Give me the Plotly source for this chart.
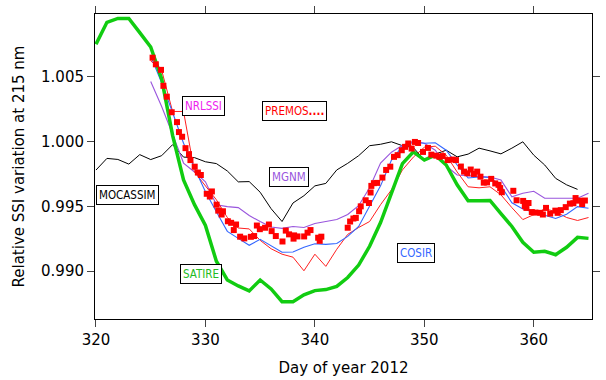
import plotly.graph_objects as go

# ---------------- data ----------------
satire_days = list(range(320, 366))
satire_vals = [1.00751, 1.00920, 1.00950, 1.00950, 1.00840, 1.00729, 1.00484, 1.00048, 0.99704, 0.99513,
               0.99352, 0.99077, 0.98932, 0.98886, 0.98848, 0.98932, 0.98863, 0.98764, 0.98764, 0.98817,
               0.98850, 0.98858, 0.98882, 0.98951, 0.99047, 0.99192, 0.99375, 0.99597, 0.99830, 0.99920,
               0.99857, 0.99895, 0.99819, 0.99666, 0.99544, 0.99544, 0.99546, 0.99444, 0.99345, 0.99223,
               0.99146, 0.99154, 0.99127, 0.99184, 0.99261, 0.99253]

mocassim_days = list(range(320, 365))
mocassim_vals = [0.99780, 0.99870, 0.99862, 0.99826, 0.99899, 0.99861, 0.99891, 0.99976, 0.99880, 0.99876,
                 0.99844, 0.99830, 0.99773, 0.99689, 0.99691, 0.99609, 0.99482, 0.99383, 0.99526, 0.99582,
                 0.99658, 0.99677, 0.99781, 0.99832, 0.99891, 0.99968, 0.99979, 0.99998, 0.99968, 0.99953,
                 0.99857, 0.99903, 0.99933, 0.99882, 0.99903, 0.99949, 0.99928, 0.99905, 0.99949, 0.99998,
                 0.99895, 0.99819, 0.99716, 0.99666, 0.99631]

mgnm_days = list(range(325, 366))
mgnm_vals = [1.00463, 1.00270, 1.00056, 0.99834, 0.99765, 0.99689, 0.99513, 0.99498, 0.99490, 0.99429,
             0.99383, 0.99341, 0.99330, 0.99345, 0.99337, 0.99368, 0.99383, 0.99398, 0.99437, 0.99505,
             0.99643, 0.99834, 0.99918, 0.99972, 1.00002, 0.99987, 0.99933, 0.99811, 0.99742, 0.99735,
             0.99731, 0.99727, 0.99704, 0.99574, 0.99601, 0.99616, 0.99563, 0.99563, 0.99563, 0.99563,
             0.99601]

cosir_days = list(range(325, 366))
cosir_vals = [1.00660, 1.00453, 1.00224, 0.99987, 0.99796, 0.99612, 0.99459, 0.99307, 0.99253, 0.99200,
              0.99246, 0.99196, 0.99146, 0.99148, 0.99184, 0.99211, 0.99207, 0.99213, 0.99268, 0.99345,
              0.99498, 0.99658, 0.99857, 0.99964, 0.99995, 0.99987, 0.99991, 0.99933, 0.99819, 0.99719,
              0.99727, 0.99723, 0.99658, 0.99528, 0.99479, 0.99452, 0.99431, 0.99406, 0.99440, 0.99498,
              0.99486]

nrlssi_days = list(range(325, 366))
nrlssi_vals = [1.00622, 1.00550, 1.00232, 1.00232, 0.99765, 0.99658, 0.99551, 0.99414, 0.99333, 0.99326,
               0.99238, 0.99173, 0.99131, 0.99108, 0.99003, 0.99131, 0.99037, 0.99169, 0.99284, 0.99337,
               0.99383, 0.99513, 0.99628, 0.99781, 0.99880, 0.99956, 0.99964, 0.99895, 0.99765, 0.99651,
               0.99643, 0.99651, 0.99589, 0.99490, 0.99398, 0.99436, 0.99482, 0.99459, 0.99414, 0.99391,
               0.99414]

premos_days = [325.17, 325.47, 325.94, 326.16, 326.47, 326.92, 327.40, 327.58, 327.87, 328.18,
               328.50, 328.63, 329.02, 329.31, 329.58, 330.12, 330.40, 330.59, 331.02, 331.17,
               331.60, 331.48, 332.05, 332.35, 332.80, 332.59, 333.17, 333.55, 334.15, 334.45,
               334.70, 334.97, 335.45, 335.80, 336.05, 336.43, 337.04, 337.34, 337.64, 338.05,
               338.10, 338.41, 339.02, 339.33, 339.60, 340.30, 340.44, 340.59, 343.00, 343.22,
               343.52, 343.74, 344.04, 344.19, 344.64, 344.94, 345.09, 345.16, 345.39, 345.69,
               346.17, 346.51, 346.89, 347.23, 347.56, 347.94, 348.24, 348.53, 348.84, 349.14,
               349.43, 349.88, 350.33, 350.64, 351.09, 351.38, 351.68, 352.13, 352.58, 352.89,
               353.34, 353.63, 353.93, 354.24, 354.53, 354.83, 355.13, 355.43, 355.73, 356.11,
               356.48, 356.78, 356.93, 357.08, 358.13, 358.43, 359.03, 359.18, 359.33, 359.52,
               359.82, 360.15, 360.60, 360.83, 361.12, 361.50, 361.97, 362.18, 362.47, 362.92,
               363.30, 363.62, 363.82, 364.13, 364.42, 364.67]
premos_vals = [1.00647, 1.00596, 1.00553, 1.00430, 1.00346, 1.00226, 1.00150, 1.00073, 1.00037, 0.99949,
               0.99903, 0.99857, 0.99806, 0.99761, 0.99742, 0.99597, 0.99576, 0.99615, 0.99513, 0.99467,
               0.99462, 0.99437, 0.99385, 0.99373, 0.99360, 0.99317, 0.99266, 0.99253, 0.99265, 0.99271,
               0.99352, 0.99324, 0.99335, 0.99360, 0.99309, 0.99271, 0.99229, 0.99313, 0.99284, 0.99251,
               0.99276, 0.99268, 0.99268, 0.99297, 0.99317, 0.99258, 0.99234, 0.99266, 0.99335, 0.99383,
               0.99406, 0.99411, 0.99462, 0.99500, 0.99547, 0.99526, 0.99607, 0.99658, 0.99679, 0.99681,
               0.99722, 0.99781, 0.99806, 0.99882, 0.99895, 0.99933, 0.99959, 0.99985, 0.99946, 0.99997,
               0.99989, 0.99920, 0.99951, 0.99899, 0.99891, 0.99882, 0.99888, 0.99857, 0.99861, 0.99857,
               0.99807, 0.99768, 0.99755, 0.99784, 0.99750, 0.99768, 0.99729, 0.99683, 0.99685, 0.99712,
               0.99677, 0.99666, 0.99641, 0.99609, 0.99620, 0.99547, 0.99542, 0.99503, 0.99488, 0.99526,
               0.99456, 0.99452, 0.99450, 0.99437, 0.99488, 0.99444, 0.99467, 0.99450, 0.99471, 0.99494,
               0.99521, 0.99524, 0.99564, 0.99544, 0.99518, 0.99545]

x_ticks = [320, 330, 340, 350, 360]
y_ticks = [0.990, 0.995, 1.000, 1.005]
y_tick_text = ["0.990", "0.995", "1.000", "1.005"]

# labels: (text, x, y, colour)
labels = [
    ("NRLSSI", 329.80, 1.00278, "#EE22EE"),
    ("PREMOS<span style='color:#FF0000'><b>....</b></span>", 338.10, 1.00233, "#FF0000"),
    ("MGNM", 337.60, 0.99723, "#9955DD"),
    ("MOCASSIM", 322.88, 0.99587, "#000000"),
    ("SATIRE", 329.60, 0.98979, "#22BB22"),
    ("COSIR", 349.25, 0.99142, "#3366FF"),
]

FONT = "DejaVu Sans, Verdana, sans-serif"

fig = go.Figure()
fig.add_trace(go.Scatter(x=mocassim_days, y=mocassim_vals, mode="lines",
                         line=dict(color="#000000", width=1), name="MOCASSIM"))
fig.add_trace(go.Scatter(x=mgnm_days, y=mgnm_vals, mode="lines",
                         line=dict(color="#9955DD", width=1.1), name="MGNM"))
fig.add_trace(go.Scatter(x=nrlssi_days, y=nrlssi_vals, mode="lines",
                         line=dict(color="#FF2020", width=1), name="NRLSSI"))
fig.add_trace(go.Scatter(x=cosir_days, y=cosir_vals, mode="lines",
                         line=dict(color="#3366FF", width=1.1), name="COSIR"))
fig.add_trace(go.Scatter(x=satire_days, y=satire_vals, mode="lines",
                         line=dict(color="#11CC11", width=3.5), name="SATIRE"))
fig.add_trace(go.Scatter(x=premos_days, y=premos_vals, mode="markers",
                         marker=dict(symbol="square", size=6, color="#FF0000", line=dict(width=0)),
                         name="PREMOS"))

for text, lx, ly, col in labels:
    fig.add_annotation(x=lx, y=ly, text=text, showarrow=False,
                       font=dict(family="Liberation Sans Narrow, DejaVu Sans Condensed, Liberation Sans, sans-serif",
                                 size=11.5, color=col),
                       bgcolor="white", bordercolor="black", borderwidth=1, borderpad=2)

fig.update_layout(
    width=606, height=380,
    margin=dict(l=95, r=6, t=13, b=59),
    paper_bgcolor="white", plot_bgcolor="white",
    showlegend=False,
    font=dict(family=FONT, size=15, color="black"),
)
fig.update_xaxes(range=[319.91, 365.32], tickvals=x_ticks, ticks="outside", ticklen=7,
                 showline=True, linecolor="black", linewidth=1, mirror="ticks",
                 showgrid=False, zeroline=False,
                 title=dict(text="Day of year 2012", standoff=14, font=dict(size=15)),
                 tickfont=dict(size=15))
fig.update_yaxes(range=[0.98631, 1.00984], tickvals=y_ticks, ticktext=y_tick_text,
                 ticks="outside", ticklen=7,
                 showline=True, linecolor="black", linewidth=1, mirror="ticks",
                 showgrid=False, zeroline=False,
                 title=dict(text="Relative SSI variation at 215 nm", standoff=12, font=dict(size=15)),
                 tickfont=dict(size=15))

fig.write_html("out.html")
